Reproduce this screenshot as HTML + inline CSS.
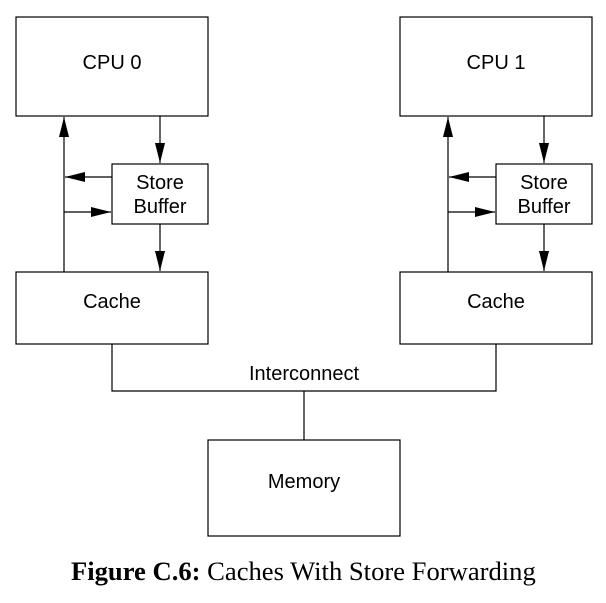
<!DOCTYPE html>
<html><head><style>
body{margin:0;background:#fff;width:606px;height:603px;overflow:hidden}
</style></head><body>
<svg width="606" height="603" xmlns="http://www.w3.org/2000/svg" style="position:absolute;left:0;top:0">
<defs>
<marker id="b" markerWidth="20" markerHeight="10" refX="20" refY="5" orient="auto" markerUnits="userSpaceOnUse"><path d="M0,0 L20,5 L0,10 Z" fill="#000"/></marker></defs>
<g fill="none" stroke="#000" stroke-width="1.2">
<rect x="16" y="17" width="192" height="99"/>
<rect x="112" y="164" width="96" height="60"/>
<rect x="16" y="272" width="192" height="72"/>
<rect x="400" y="17" width="192" height="99"/>
<rect x="496" y="164" width="96" height="60"/>
<rect x="400" y="272" width="192" height="72"/>
<rect x="208" y="440" width="192" height="96"/>
<polyline points="112,344 112,391 496,391 496,344"/>
<line x1="304" y1="391" x2="304" y2="440"/>
<line x1="64" y1="272" x2="64" y2="117" marker-end="url(#b)"/>
<line x1="112" y1="177" x2="65" y2="177" marker-end="url(#b)"/>
<line x1="64" y1="212" x2="111" y2="212" marker-end="url(#b)"/>
<line x1="160" y1="116" x2="160" y2="163" marker-end="url(#b)"/>
<line x1="160" y1="224" x2="160" y2="271" marker-end="url(#b)"/>
<line x1="448" y1="272" x2="448" y2="117" marker-end="url(#b)"/>
<line x1="496" y1="177" x2="449" y2="177" marker-end="url(#b)"/>
<line x1="448" y1="212" x2="495" y2="212" marker-end="url(#b)"/>
<line x1="544" y1="116" x2="544" y2="163" marker-end="url(#b)"/>
<line x1="544" y1="224" x2="544" y2="271" marker-end="url(#b)"/>
</g>
<g font-family="Liberation Sans, sans-serif" font-size="20" text-anchor="middle" fill="#000">
<text x="112" y="69">CPU 0</text>
<text x="496" y="69">CPU 1</text>
<text x="160" y="189">Store</text>
<text x="160" y="213">Buffer</text>
<text x="544" y="189">Store</text>
<text x="544" y="213">Buffer</text>
<text x="112" y="308">Cache</text>
<text x="496" y="308">Cache</text>
<text x="304" y="380">Interconnect</text>
<text x="304" y="488">Memory</text>
</g>
<text x="71" y="580" font-family="Liberation Serif, serif" font-size="26.6" fill="#000"><tspan font-weight="bold">Figure C.6:</tspan> Caches With Store Forwarding</text>
</svg>
</body></html>
